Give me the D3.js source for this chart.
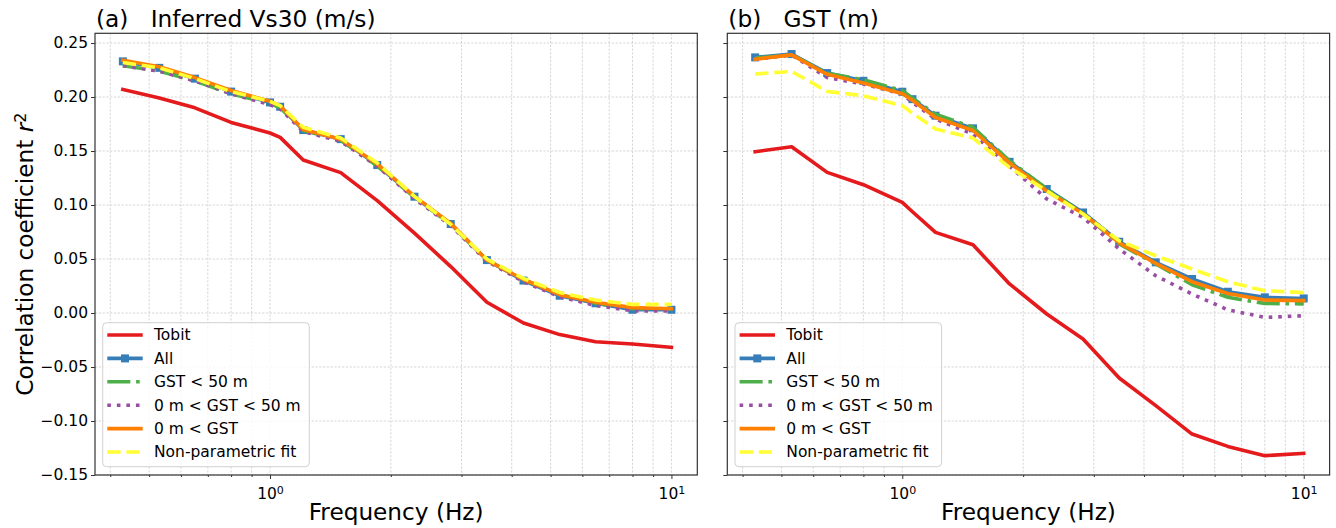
<!DOCTYPE html>
<html>
<head>
<meta charset="utf-8">
<script src="https://cdn.jsdelivr.net/npm/d3@7"></script>
<style>
  html, body { margin: 0; padding: 0; background: #fff; }
  svg { display: block; font-family: "DejaVu Sans", sans-serif; }
</style>
</head>
<body>
<svg id="chart" width="1336" height="528"></svg>
<script>
// Frequencies (Hz) shared by every curve
const freq = [0.43, 0.53, 0.65, 0.80, 1.00, 1.06, 1.21, 1.50, 1.85, 2.29, 2.82, 3.47, 4.28, 5.27, 6.47, 8.00, 10.0];

// Panel (a): Inferred Vs30
const tobitVs30   = [0.207, 0.199, 0.190, 0.1765, 0.1667, 0.1626, 0.1417, 0.130, 0.104, 0.074, 0.043, 0.010, -0.0093, -0.020, -0.0266, -0.0287, -0.0318];
const allVs30     = [0.233, 0.227, 0.217, 0.205, 0.195, 0.191, 0.1694, 0.161, 0.137, 0.1077, 0.0824, 0.049, 0.030, 0.016, 0.009, 0.003, 0.003];
const lt50Vs30    = [0.229, 0.224, 0.215, 0.203, 0.194, 0.190, 0.169, 0.160, 0.136, 0.107, 0.082, 0.049, 0.031, 0.017, 0.009, 0.004, 0.004];
const mid50Vs30   = [0.229, 0.224, 0.215, 0.203, 0.193, 0.189, 0.168, 0.159, 0.136, 0.106, 0.081, 0.048, 0.029, 0.015, 0.007, 0.002, 0.002];
const gt0Vs30     = [0.234, 0.228, 0.218, 0.206, 0.196, 0.192, 0.170, 0.161, 0.138, 0.108, 0.083, 0.049, 0.031, 0.017, 0.010, 0.005, 0.004];
const npfitVs30   = [0.232, 0.227, 0.217, 0.205, 0.196, 0.192, 0.172, 0.162, 0.139, 0.108, 0.082, 0.050, 0.032, 0.019, 0.012, 0.008, 0.008];

// Panel (b): GST
const tobitGST    = [0.1494, 0.154, 0.1302, 0.1188, 0.1024, 0.0938, 0.0747, 0.0632, 0.0269, -0.0009, -0.0241, -0.0602, -0.0858, -0.1121, -0.1235, -0.1321, -0.130];
const allGST      = [0.2367, 0.2398, 0.2222, 0.215, 0.2049, 0.198, 0.1827, 0.171, 0.140, 0.1148, 0.0931, 0.066, 0.0469, 0.0315, 0.0197, 0.0145, 0.0135];
const lt50GST     = [0.236, 0.239, 0.222, 0.216, 0.206, 0.199, 0.184, 0.172, 0.141, 0.115, 0.092, 0.064, 0.0454, 0.0262, 0.0145, 0.0088, 0.0085];
const mid50GST    = [0.235, 0.239, 0.218, 0.212, 0.2028, 0.195, 0.1796, 0.1657, 0.136, 0.1056, 0.0885, 0.0593, 0.0345, 0.0176, 0.003, -0.0041, -0.0025];
const gt0GST      = [0.235, 0.239, 0.221, 0.213, 0.203, 0.197, 0.181, 0.169, 0.139, 0.113, 0.092, 0.065, 0.046, 0.029, 0.018, 0.012, 0.0115];
const npfitGST    = [0.2213, 0.2237, 0.2052, 0.2012, 0.192, 0.185, 0.1704, 0.162, 0.1348, 0.1132, 0.0917, 0.0669, 0.053, 0.0407, 0.029, 0.0206, 0.019];

// Labels and ticks
const seriesNames = ["Tobit", "All", "GST < 50 m", "0 m < GST < 50 m", "0 m < GST", "Non-parametric fit"];
const panelTitles = ["(a)   Inferred Vs30 (m/s)", "(b)   GST (m)"];
const yTicks = [-0.15, -0.10, -0.05, 0.00, 0.05, 0.10, 0.15, 0.20, 0.25];
const xMajorTicks = [1, 10];
const xMinorTicks = [0.4, 0.5, 0.6, 0.7, 0.8, 0.9, 2, 3, 4, 5, 6, 7, 8, 9];

const panelData = [
  [tobitVs30, allVs30, lt50Vs30, mid50Vs30, gt0Vs30, npfitVs30],
  [tobitGST, allGST, lt50GST, mid50GST, gt0GST, npfitGST]
];

// Line styling per series (same order as seriesNames)
const LW = 3.6;
const styles = [
  { color: "#e41a1c", dash: null, cap: "square" },
  { color: "#377eb8", dash: null, cap: "square", marker: true },
  { color: "#4daf4a", dash: [6.4*LW, 1.6*LW, 1*LW, 1.6*LW].join(","), cap: "butt" },
  { color: "#984ea3", dash: [1*LW, 1.65*LW].join(","), cap: "butt" },
  { color: "#ff7f00", dash: null, cap: "square" },
  { color: "#ffff33", dash: [3.7*LW, 1.6*LW].join(","), cap: "butt" }
];

const svg = d3.select("#chart");
const plotTop = 33.3, plotBottom = 475;
const plotW = 602.3, plotH = plotBottom - plotTop;
const panelLefts = [95, 727.3];

const x = d3.scaleLog().domain([0.3665, 11.6]).range([0, plotW]);
const y = d3.scaleLinear().domain([-0.15, 0.259]).range([plotH, 0]);

const fmtY = d => d3.format(".2f")(d).replace("-", "\u2212");

panelLefts.forEach((left, pi) => {
  const g = svg.append("g").attr("transform", `translate(${left},${plotTop})`);

  // grid
  const grid = g.append("g").attr("stroke", "#b8b8b8").attr("stroke-width", 0.8)
    .attr("stroke-dasharray", "2.2,1.6").attr("opacity", 0.7);
  grid.selectAll("line.gx").data(xMajorTicks.concat(xMinorTicks)).join("line")
    .attr("class", "gx")
    .attr("x1", d => x(d)).attr("x2", d => x(d)).attr("y1", 0).attr("y2", plotH);
  grid.selectAll("line.gy").data(yTicks).join("line")
    .attr("class", "gy")
    .attr("x1", 0).attr("x2", plotW).attr("y1", d => y(d)).attr("y2", d => y(d));

  // curves
  const line = d3.line().x((d, i) => x(freq[i])).y(d => y(d));
  const curves = g.append("g");
  panelData[pi].forEach((vals, si) => {
    const st = styles[si];
    curves.append("path").datum(vals)
      .attr("d", line)
      .attr("fill", "none")
      .attr("stroke", st.color)
      .attr("stroke-width", LW)
      .attr("stroke-linejoin", "round")
      .attr("stroke-linecap", st.cap)
      .attr("stroke-dasharray", st.dash);
    if (st.marker) {
      curves.append("g").selectAll("rect").data(vals).join("rect")
        .attr("x", (d, i) => x(freq[i]) - 4).attr("y", d => y(d) - 4)
        .attr("width", 8).attr("height", 8).attr("fill", st.color);
    }
  });

  // axes
  const yAxis = d3.axisLeft(y).tickValues(yTicks).tickSize(4).tickPadding(3)
    .tickFormat(pi === 0 ? fmtY : () => "");
  const ya = g.append("g").call(yAxis);
  const xa = g.append("g").attr("transform", `translate(0,${plotH})`)
    .call(d3.axisBottom(x).tickValues(xMajorTicks).tickSize(4).tickPadding(4).tickFormat(() => ""));
  g.append("g").attr("transform", `translate(0,${plotH})`)
    .call(d3.axisBottom(x).tickValues(xMinorTicks).tickSize(2).tickFormat(() => ""))
    .call(a => a.select(".domain").remove())
    .selectAll("line").attr("stroke", "#333");

  // 10^n labels
  xa.selectAll(".tick text").each(function(d) {
    const t = d3.select(this).text("");
    t.append("tspan").text("10");
    t.append("tspan").attr("dy", "-0.45em").attr("font-size", "11px").text(Math.round(Math.log10(d)));
  }).attr("font-size", "15.5px").attr("fill", "#000").attr("dy", "1.05em");

  [ya, xa].forEach(a => {
    a.select(".domain").remove();
    a.selectAll("line").attr("stroke", "#333");
    a.selectAll("text").attr("font-family", "DejaVu Sans").attr("fill", "#000");
  });
  ya.selectAll("text").attr("font-size", "15.5px");

  // frame
  g.append("rect").attr("width", plotW).attr("height", plotH)
    .attr("fill", "none").attr("stroke", "#333").attr("stroke-width", 1.2);

  // title
  g.append("text").attr("x", 1).attr("y", -6).attr("font-size", "23.3px")
    .attr("fill", "#000").style("white-space", "pre")
    .text(panelTitles[pi]);

  // x label
  g.append("text").attr("x", plotW / 2).attr("y", plotH + 45).attr("text-anchor", "middle")
    .attr("font-size", "23.2px").attr("fill", "#000").text("Frequency (Hz)");

  // legend
  const lg = g.append("g").attr("transform", `translate(7.7,${plotH - 8.3 - 144})`);
  lg.append("rect").attr("width", 206.6).attr("height", 144).attr("rx", 4)
    .attr("fill", "#fff").attr("fill-opacity", 0.8).attr("stroke", "#d0d0d0").attr("stroke-width", 1);
  seriesNames.forEach((name, si) => {
    const st = styles[si];
    const ry = 12.3 + si * 23.4;
    lg.append("line").attr("x1", 4.6).attr("x2", 40).attr("y1", ry).attr("y2", ry)
      .attr("stroke", st.color).attr("stroke-width", LW)
      .attr("stroke-linecap", "butt")
      .attr("stroke-dasharray", st.dash);
    if (st.marker) {
      lg.append("rect").attr("x", 22.3 - 4).attr("y", ry - 4).attr("width", 8).attr("height", 8)
        .attr("fill", st.color);
    }
    lg.append("text").attr("x", 51.3).attr("y", ry).attr("dy", "0.35em")
      .attr("font-size", "15.5px").attr("fill", "#000").text(name);
  });
});

// shared y label
svg.append("text")
  .attr("transform", `translate(33,${(plotTop + plotBottom) / 2}) rotate(-90)`)
  .attr("text-anchor", "middle").attr("font-size", "23.2px").attr("fill", "#000")
  .call(t => {
    t.append("tspan").text("Correlation coefficient ");
    t.append("tspan").attr("font-style", "italic").text("r");
    t.append("tspan").attr("dy", "-0.45em").attr("font-size", "16px").text("2");
  });
</script>
</body>
</html>
